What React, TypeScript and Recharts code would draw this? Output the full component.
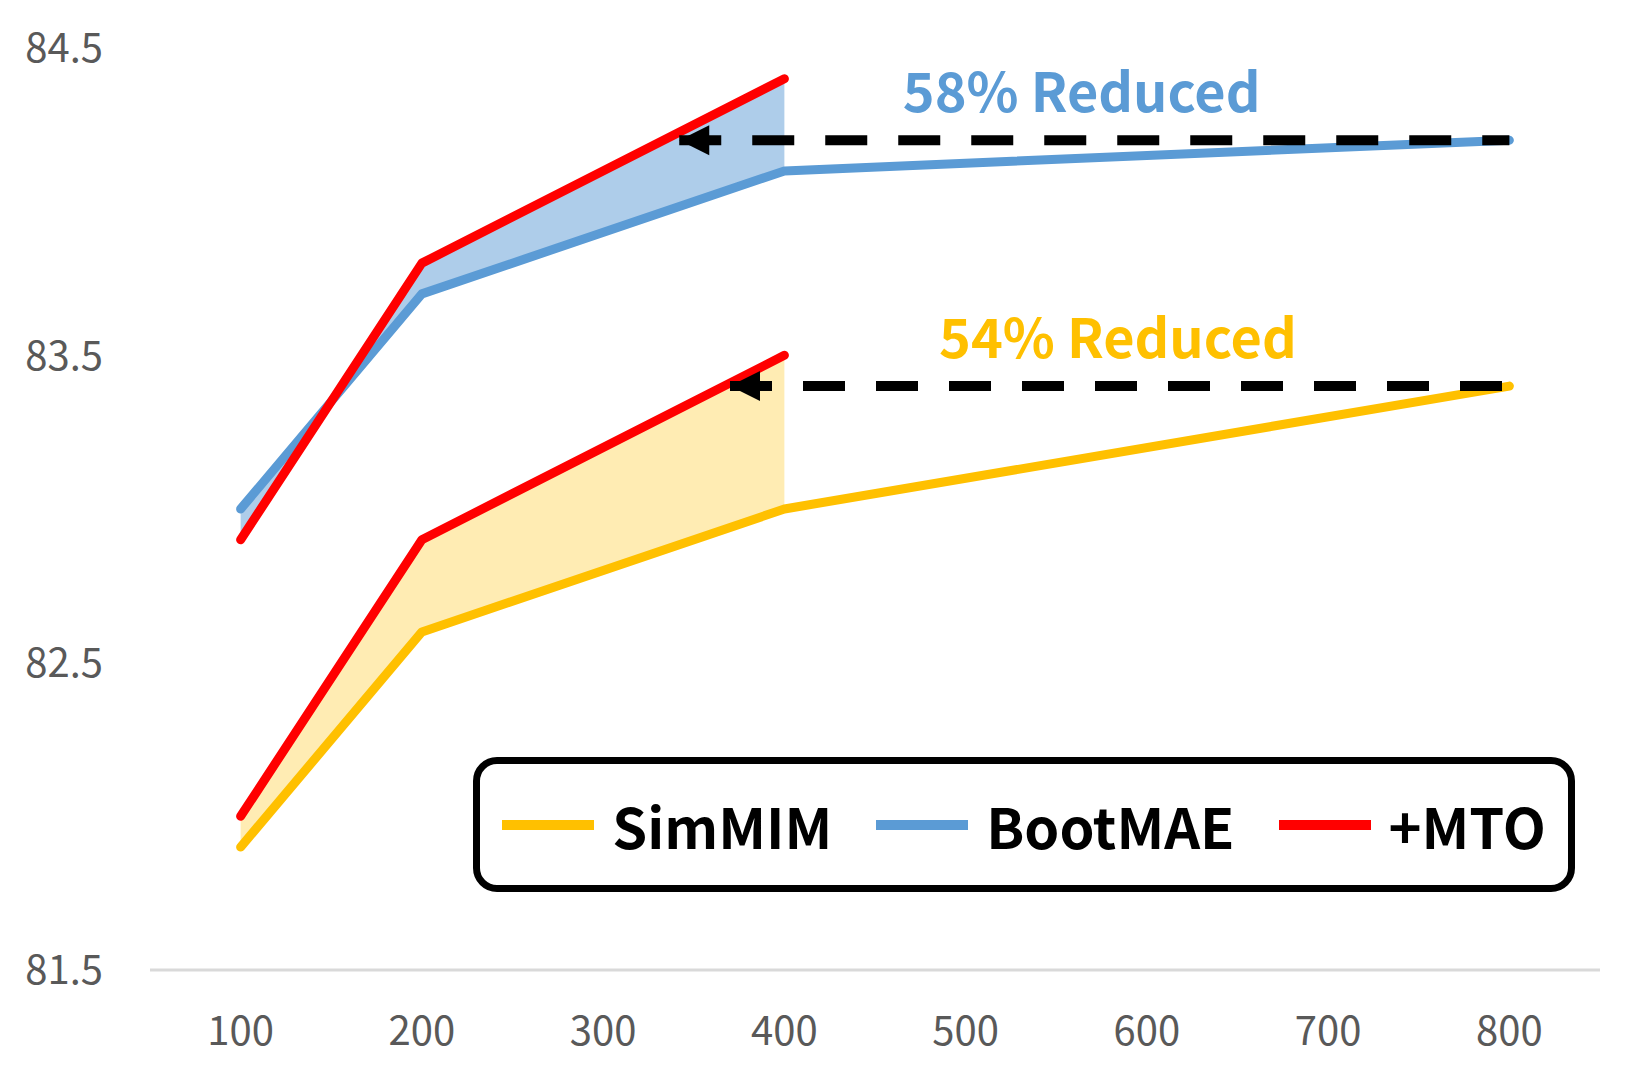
import React from 'react';
import {
  Area,
  ComposedChart,
  Legend,
  Line,
  ReferenceDot,
  ReferenceLine,
  XAxis,
  YAxis,
} from 'recharts';

const epochs = [100, 200, 400, 800];
const simmimAcc = [81.9, 82.6, 83.0, 83.4];
const bootmaeAcc = [83.0, 83.7, 84.1, 84.2];
const simmimMtoAcc = [82.0, 82.9, 83.5];
const bootmaeMtoAcc = [82.9, 83.8, 84.4];

const xTicks = [100, 200, 300, 400, 500, 600, 700, 800];
const yTicks = [81.5, 82.5, 83.5, 84.5];

// dashed guides: epoch where +MTO reaches the 800-epoch baseline -> 800
const bootmaeGuide = [342, 800];
const simmimGuide = [370, 800];
const reductionLabels = ['58% Reduced', '54% Reduced'];
const legendOrder = ['SimMIM', 'BootMAE', '+MTO'];

const FONT = '"Noto Sans CJK KR", "Noto Sans", sans-serif';
const YELLOW = '#FFC000';
const BLUE = '#5B9BD5';
const RED = '#FF0000';

const rows = epochs.map((epoch, i) => ({
  epoch,
  simmim: simmimAcc[i],
  bootmae: bootmaeAcc[i],
  simmimMto: simmimMtoAcc[i] ?? null,
  bootmaeMto: bootmaeMtoAcc[i] ?? null,
  simmimGap: i < simmimMtoAcc.length ? [simmimAcc[i], simmimMtoAcc[i]] : null,
  bootmaeGap: i < bootmaeMtoAcc.length ? [bootmaeAcc[i], bootmaeMtoAcc[i]] : null,
}));

const Arrowhead = ({ cx, cy }: any) => (
  <polygon points={`${cx},${cy} ${cx + 30},${cy - 15} ${cx + 30},${cy + 15}`} fill="#000" />
);

const reductionLabel = (text: string, color: string) => ({ cx, cy }: any) => (
  <text
    x={cx}
    y={cy - 28}
    textAnchor="middle"
    fill={color}
    fontSize={54}
    fontWeight={700}
    fontFamily={FONT}
  >
    {text}
  </text>
);

function LegendBox({ payload }: any) {
  const items = (payload || [])
    .filter((entry: any) => entry.type !== 'none')
    .sort((a: any, b: any) => legendOrder.indexOf(a.value) - legendOrder.indexOf(b.value));
  return (
    <div
      style={{
        boxSizing: 'border-box',
        width: '100%',
        height: '100%',
        border: '7px solid #000',
        borderRadius: 24,
        background: '#fff',
        display: 'flex',
        alignItems: 'center',
        justifyContent: 'center',
        gap: 44,
        fontFamily: FONT,
        fontWeight: 700,
        fontSize: 56,
        color: '#000',
      }}
    >
      {items.map((entry: any) => (
        <div key={entry.value} style={{ display: 'flex', alignItems: 'center', gap: 18 }}>
          <span style={{ width: 92, height: 10, background: entry.color, display: 'inline-block' }} />
          <span style={{ lineHeight: 1 }}>{entry.value}</span>
        </div>
      ))}
    </div>
  );
}

export default function App() {
  const tick = { fill: '#595959', fontSize: 40, fontFamily: FONT };

  return (
    <div style={{ position: 'absolute', left: 0, top: 0, width: 1650, height: 1085, background: '#fff' }}>
      <ComposedChart width={1650} height={1085} data={rows} margin={{ top: 48, right: 50, left: 0, bottom: 15 }}>
        <XAxis
          dataKey="epoch"
          type="number"
          domain={[50, 850]}
          ticks={xTicks}
          tick={tick}
          tickLine={false}
          tickSize={0}
          tickMargin={47}
          height={100}
          axisLine={{ stroke: '#D9D9D9', strokeWidth: 3 }}
        />
        <YAxis
          type="number"
          domain={[81.5, 84.5]}
          ticks={yTicks}
          tick={tick}
          axisLine={false}
          tickLine={false}
          tickSize={0}
          tickMargin={47}
          width={150}
        />
        <Area
          dataKey="bootmaeGap"
          type="linear"
          stroke="none"
          fill="#AECDEA"
          fillOpacity={1}
          legendType="none"
          isAnimationActive={false}
          activeDot={false}
        />
        <Area
          dataKey="simmimGap"
          type="linear"
          stroke="none"
          fill="#FFECB3"
          fillOpacity={1}
          legendType="none"
          isAnimationActive={false}
          activeDot={false}
        />
        <Line dataKey="simmim" name="SimMIM" type="linear" stroke={YELLOW} strokeWidth={9} strokeLinecap="round" strokeLinejoin="round" dot={false} activeDot={false} isAnimationActive={false} />
        <Line dataKey="bootmae" name="BootMAE" type="linear" stroke={BLUE} strokeWidth={9} strokeLinecap="round" strokeLinejoin="round" dot={false} activeDot={false} isAnimationActive={false} />
        <Line dataKey="simmimMto" name="+MTO" type="linear" stroke={RED} strokeWidth={9} strokeLinecap="round" strokeLinejoin="round" dot={false} activeDot={false} isAnimationActive={false} />
        <Line dataKey="bootmaeMto" name="+MTO " legendType="none" type="linear" stroke={RED} strokeWidth={9} strokeLinecap="round" strokeLinejoin="round" dot={false} activeDot={false} isAnimationActive={false} />

        <ReferenceLine
          segment={[{ x: bootmaeGuide[0], y: bootmaeAcc[3] }, { x: bootmaeGuide[1], y: bootmaeAcc[3] }]}
          stroke="#000"
          strokeWidth={10}
          strokeDasharray="42 31"
        />
        <ReferenceLine
          segment={[{ x: simmimGuide[0], y: simmimAcc[3] }, { x: simmimGuide[1], y: simmimAcc[3] }]}
          stroke="#000"
          strokeWidth={10}
          strokeDasharray="42 31"
        />
        <ReferenceDot x={bootmaeGuide[0]} y={bootmaeAcc[3]} shape={Arrowhead} />
        <ReferenceDot x={simmimGuide[0]} y={simmimAcc[3]} shape={Arrowhead} />
        <ReferenceDot x={564} y={bootmaeAcc[3]} shape={reductionLabel(reductionLabels[0], BLUE)} />
        <ReferenceDot x={584} y={simmimAcc[3]} shape={reductionLabel(reductionLabels[1], YELLOW)} />

        <Legend
          layout="horizontal"
          verticalAlign="middle"
          align="center"
          content={<LegendBox />}
          wrapperStyle={{ left: 473, top: 757, width: 1102, height: 135 }}
        />
      </ComposedChart>
    </div>
  );
}
